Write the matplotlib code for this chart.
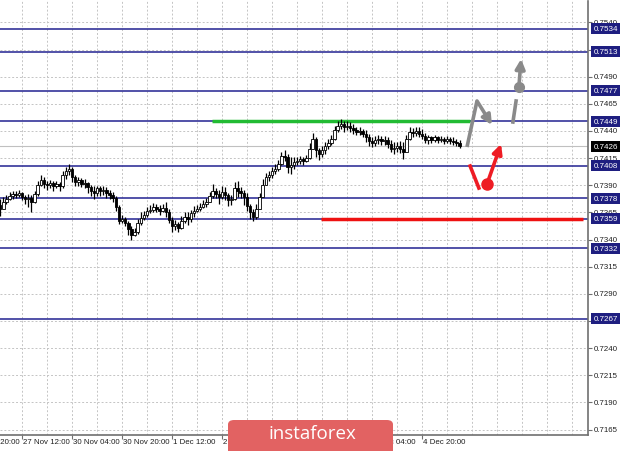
import numpy as np
import matplotlib.pyplot as plt
import matplotlib.transforms as mtransforms
from matplotlib.patches import FancyBboxPatch

# hourly bars (bar index 0 = left edge)
closes = [0.7368, 0.7375, 0.7377, 0.7380, 0.7382, 0.7381, 0.7383, 0.7379, 0.7377, 0.7378,
          0.7375, 0.7382, 0.7390, 0.7395, 0.7391, 0.7390, 0.7392, 0.7389, 0.7391, 0.7389,
          0.7399, 0.7403, 0.7405, 0.7398, 0.7393, 0.7395, 0.7391, 0.7392, 0.7388, 0.7385,
          0.7383, 0.7387, 0.7385, 0.7386, 0.7383, 0.7381, 0.7378, 0.7370, 0.7357, 0.7359,
          0.7355, 0.7350, 0.7344, 0.7347, 0.7355, 0.7360, 0.7363, 0.7366, 0.7367, 0.7370,
          0.7368, 0.7366, 0.7369, 0.7365, 0.7358, 0.7352, 0.7354, 0.7351, 0.7357, 0.7361,
          0.7359, 0.7364, 0.7366, 0.7368, 0.7370, 0.7373, 0.7375, 0.7380, 0.7385, 0.7382,
          0.7379, 0.7384, 0.7381, 0.7376, 0.7377, 0.7387, 0.7385, 0.7383, 0.7379, 0.7371,
          0.7365, 0.7361, 0.7368, 0.7379, 0.7390, 0.7398, 0.7399, 0.7403, 0.7405, 0.7410,
          0.7417, 0.7416, 0.7407, 0.7409, 0.7411, 0.7412, 0.7414, 0.7412, 0.7415, 0.7423,
          0.7433, 0.7422, 0.7419, 0.7422, 0.7426, 0.7429, 0.7433, 0.7441, 0.7445, 0.7446,
          0.7444, 0.7445, 0.7443, 0.7441, 0.7439, 0.7440, 0.7437, 0.7434, 0.7431, 0.7429,
          0.7432, 0.7433, 0.7431, 0.7432, 0.7428, 0.7423, 0.7424, 0.7426, 0.7423, 0.7421,
          0.7433, 0.7439, 0.7438, 0.7440, 0.7437, 0.7435, 0.7432, 0.7434, 0.7432, 0.7434,
          0.7432, 0.7433, 0.7431, 0.7433, 0.7431, 0.7430, 0.7429, 0.7426]
highs = [0.7377, 0.7379, 0.7381, 0.7384, 0.7385, 0.7385, 0.7386, 0.7384, 0.7381, 0.7382,
         0.7381, 0.7385, 0.7394, 0.7399, 0.7398, 0.7394, 0.7395, 0.7394, 0.7394, 0.7393,
         0.7403, 0.7407, 0.7410, 0.7407, 0.7399, 0.7398, 0.7397, 0.7396, 0.7393, 0.7390,
         0.7389, 0.7389, 0.7389, 0.7389, 0.7388, 0.7386, 0.7384, 0.7380, 0.7372, 0.7363,
         0.7361, 0.7357, 0.7352, 0.7351, 0.7359, 0.7365, 0.7366, 0.7370, 0.7372, 0.7374,
         0.7373, 0.7372, 0.7373, 0.7375, 0.7368, 0.7361, 0.7358, 0.7356, 0.7362, 0.7365,
         0.7365, 0.7367, 0.7371, 0.7372, 0.7374, 0.7376, 0.7378, 0.7384, 0.7391, 0.7387,
         0.7386, 0.7389, 0.7388, 0.7383, 0.7381, 0.7393, 0.7394, 0.7388, 0.7386, 0.7383,
         0.7373, 0.7368, 0.7373, 0.7383, 0.7396, 0.7401, 0.7403, 0.7407, 0.7410, 0.7413,
         0.7421, 0.7422, 0.7419, 0.7416, 0.7416, 0.7416, 0.7417, 0.7416, 0.7418, 0.7429,
         0.7438, 0.7434, 0.7424, 0.7426, 0.7430, 0.7433, 0.7436, 0.7445, 0.7449, 0.7451,
         0.7449, 0.7449, 0.7448, 0.7446, 0.7444, 0.7444, 0.7442, 0.7441, 0.7437, 0.7434,
         0.7435, 0.7436, 0.7435, 0.7435, 0.7434, 0.7432, 0.7430, 0.7430, 0.7431, 0.7430,
         0.7436, 0.7444, 0.7443, 0.7444, 0.7444, 0.7442, 0.7438, 0.7436, 0.7435, 0.7436,
         0.7435, 0.7435, 0.7434, 0.7435, 0.7434, 0.7434, 0.7433, 0.7432]
lows = [0.7362, 0.7368, 0.7373, 0.7376, 0.7377, 0.7378, 0.7379, 0.7376, 0.7373, 0.7370,
        0.7365, 0.7374, 0.7380, 0.7389, 0.7387, 0.7386, 0.7387, 0.7385, 0.7387, 0.7385,
        0.7387, 0.7396, 0.7399, 0.7393, 0.7389, 0.7389, 0.7388, 0.7387, 0.7383, 0.7380,
        0.7377, 0.7380, 0.7380, 0.7381, 0.7378, 0.7377, 0.7375, 0.7366, 0.7354, 0.7355,
        0.7352, 0.7344, 0.7340, 0.7343, 0.7345, 0.7353, 0.7358, 0.7361, 0.7364, 0.7365,
        0.7365, 0.7363, 0.7365, 0.7361, 0.7355, 0.7347, 0.7349, 0.7347, 0.7350, 0.7355,
        0.7353, 0.7356, 0.7361, 0.7365, 0.7366, 0.7369, 0.7370, 0.7375, 0.7378, 0.7378,
        0.7373, 0.7377, 0.7376, 0.7371, 0.7372, 0.7376, 0.7379, 0.7378, 0.7372, 0.7366,
        0.7359, 0.7357, 0.7359, 0.7368, 0.7379, 0.7390, 0.7394, 0.7397, 0.7400, 0.7403,
        0.7409, 0.7412, 0.7401, 0.7400, 0.7405, 0.7409, 0.7410, 0.7409, 0.7411, 0.7414,
        0.7423, 0.7416, 0.7413, 0.7416, 0.7419, 0.7423, 0.7427, 0.7432, 0.7439, 0.7442,
        0.7439, 0.7441, 0.7439, 0.7437, 0.7436, 0.7436, 0.7434, 0.7430, 0.7426, 0.7425,
        0.7426, 0.7428, 0.7427, 0.7427, 0.7424, 0.7421, 0.7419, 0.7421, 0.7420, 0.7414,
        0.7422, 0.7432, 0.7434, 0.7435, 0.7434, 0.7433, 0.7429, 0.7428, 0.7429, 0.7430,
        0.7429, 0.7430, 0.7428, 0.7429, 0.7428, 0.7427, 0.7426, 0.7424]
first_open = 0.7372

# horizontal levels and price axis
levels = [0.7534, 0.7513, 0.7477, 0.7449, 0.7408, 0.7378, 0.7359, 0.7332, 0.7267]
last_price = 0.7426
price_ticks = [0.7165, 0.7190, 0.7215, 0.7240, 0.7265, 0.7290, 0.7315, 0.7340, 0.7365,
               0.7390, 0.7415, 0.7440, 0.7465, 0.7490, 0.7515, 0.7540]

# time axis (bar index -> label)
time_ticks = [-9, 7, 23, 39, 55, 71, 87, 103, 119, 135]
time_labels = ['26 Nov 20:00', '27 Nov 12:00', '30 Nov 04:00', '30 Nov 20:00', '1 Dec 12:00',
               '2 Dec 04:00', '2 Dec 20:00', '3 Dec 12:00', '4 Dec 04:00', '4 Dec 20:00']

# support / resistance segments (bar from, bar to, price)
green_seg = (67.8, 150.4, 0.7449)
red_seg = (102.7, 186.5, 0.7359)

# forecast sketches (bar, price)
gray_path_x = [149.4, 152.6, 157.4]
gray_path_y = [0.74252, 0.74676, 0.74455]
gray_up_x = [164.1, 165.1]
gray_up_y = [0.74482, 0.74676]
gray_dot = (166.0, 0.74805)
gray_tip = (166.7, 0.75063)
red_path_x = [150.4, 153.2]
red_path_y = [0.74077, 0.73874]
red_dot = (155.8, 0.73911)
red_tip = (160.3, 0.74280)

W, H = 620, 452
fig = plt.figure(figsize=(W / 100, H / 100), dpi=100)
fig.patch.set_facecolor('white')
ax = fig.add_axes([0, 16 / H, 588 / W, 434 / H])
ax.set_xlim(-0.04, 188.12)
ax.set_ylim(0.715996, 0.755968)

for s in ['left', 'top']:
    ax.spines[s].set_visible(False)
for s in ['right', 'bottom']:
    ax.spines[s].set_color('#707070')
    ax.spines[s].set_linewidth(1.2)

# grid
for xg in np.arange(-1, 189, 8):
    ax.axvline(xg, color='#c4c4c4', lw=0.7, ls=(0, (2, 2)), zorder=0)
for yg in price_ticks:
    ax.axhline(yg, color='#c4c4c4', lw=0.7, ls=(0, (2, 2)), zorder=0)

# bid line
ax.axhline(last_price, color='#c0c0c0', lw=0.8, zorder=1)

# levels
for lv in levels:
    ax.axhline(lv, color='#34349a', lw=1.2, zorder=2)

ax.hlines(green_seg[2], green_seg[0], green_seg[1], color='#22bb33', lw=2.5, zorder=3)
ax.hlines(red_seg[2], red_seg[0], red_seg[1], color='#ee1111', lw=2.5, zorder=3)

# candles
idx = np.arange(len(closes))
opens = [first_open] + closes[:-1]
ax.vlines(idx, lows, highs, color='black', lw=0.9, zorder=4)
for i in idx:
    o, c = opens[i], closes[i]
    lo, hi = min(o, c), max(o, c)
    if hi - lo < 0.00005:
        ax.hlines(c, i - 0.4, i + 0.4, color='black', lw=0.9, zorder=5)
        continue
    fc = 'white' if c > o else 'black'
    ax.bar(i, hi - lo, bottom=lo, width=0.8, facecolor=fc, edgecolor='black',
           linewidth=0.6, zorder=5)

# forecast arrows
gray = '#8a8a8a'
ax.plot(gray_path_x[:-1], gray_path_y[:-1], color=gray, lw=2.6, solid_capstyle='butt', zorder=6)
ax.annotate('', xy=(gray_path_x[-1], gray_path_y[-1]), xytext=(gray_path_x[-2], gray_path_y[-2]),
            arrowprops=dict(arrowstyle='-|>', color=gray, lw=2.6, mutation_scale=14,
                            shrinkA=0, shrinkB=0), zorder=6)
ax.plot(gray_up_x, gray_up_y, color=gray, lw=2.6, zorder=6)
ax.plot(*gray_dot, 'o', color=gray, ms=7, zorder=6)
ax.annotate('', xy=gray_tip, xytext=gray_dot,
            arrowprops=dict(arrowstyle='-|>', color=gray, lw=2.6, mutation_scale=14,
                            shrinkA=0, shrinkB=0), zorder=6)
redc = '#ee1c24'
ax.plot(red_path_x, red_path_y, color=redc, lw=2.6, zorder=6)
ax.plot(*red_dot, 'o', color=redc, ms=8, zorder=6)
ax.annotate('', xy=red_tip, xytext=red_dot,
            arrowprops=dict(arrowstyle='-|>', color=redc, lw=2.6, mutation_scale=14,
                            shrinkA=0, shrinkB=0), zorder=6)

# axes ticks / labels
font = 'Liberation Sans'
ax.set_xticks([t for t in time_ticks if t >= 0])
ax.set_xticklabels([])
ax.tick_params(axis='x', length=3, color='#707070', direction='out')
xtr = mtransforms.blended_transform_factory(ax.transData, ax.transAxes)
for t, lab in zip(time_ticks, time_labels):
    ax.text(t + 0.3, -0.006, lab, transform=xtr, ha='left', va='top', fontsize=5.7,
            family=font, color='#202020', clip_on=False)

ax.yaxis.tick_right()
ax.set_yticks(price_ticks)
ax.set_yticklabels([])
ax.tick_params(axis='y', length=3, color='#707070', direction='out')
ytr = mtransforms.blended_transform_factory(ax.transAxes, ax.transData)
for p in price_ticks:
    ax.text(1.009, p, f'{p:.4f}', transform=ytr, ha='left', va='center', fontsize=5.7,
            family=font, color='#202020', clip_on=False, zorder=7)
for lv in levels:
    ax.text(1.009, lv, f'{lv:.4f}', transform=ytr, ha='left', va='center', fontsize=5.8,
            family=font, color='white', clip_on=False, zorder=8,
            bbox=dict(boxstyle='square,pad=0.25', facecolor='#1e1e80', edgecolor='none'))
ax.text(1.009, last_price, f'{last_price:.4f}', transform=ytr, ha='left', va='center',
        fontsize=5.8, family=font, color='white', clip_on=False, zorder=8,
        bbox=dict(boxstyle='square,pad=0.25', facecolor='black', edgecolor='none'))

# watermark
badge = FancyBboxPatch((228 / W, -0.05), 165 / W, (452 - 421) / H + 0.05,
                       boxstyle='round,pad=0,rounding_size=0.01', transform=fig.transFigure,
                       facecolor='#e26262', edgecolor='none', zorder=10)
fig.patches.append(badge)
fig.text(312 / W, (452 - 434) / H, 'instaforex', ha='center', va='center', fontsize=13.5,
         family='Open Sans', color='white', zorder=11)

fig.savefig('out.png', dpi=100, facecolor='white')
